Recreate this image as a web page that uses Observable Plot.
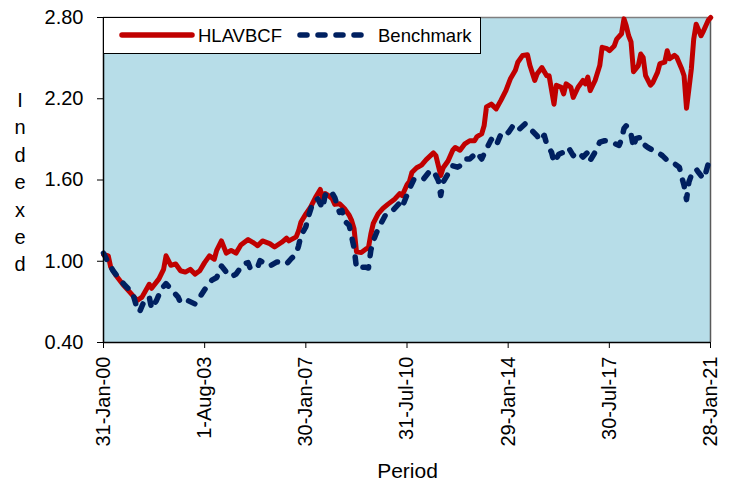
<!DOCTYPE html>
<html><head><meta charset="utf-8">
<script src="https://cdn.jsdelivr.net/npm/d3@7"></script>
<script src="https://cdn.jsdelivr.net/npm/@observablehq/plot@0.6"></script>
<style>body{margin:0;background:#fff;} svg{display:block}</style>
</head><body><div id="chart"></div>
<script>
// ---- data (month-end observations, indexed) ----
const seriesNames = ["HLAVBCF", "Benchmark"];
const fundDates = ["2000-01","2000-03","2000-04","2000-06","2000-09","2000-12","2001-03","2001-05","2001-08","2001-09","2001-12","2002-02","2002-03","2002-05","2002-07","2002-09","2002-11","2003-01","2003-03","2003-05","2003-07","2003-09","2003-11","2003-12","2004-02","2004-04","2004-06","2004-08","2004-10","2005-01","2005-03","2005-05","2005-07","2005-10","2005-12","2006-03","2006-05","2006-06","2006-09","2006-10","2006-11","2007-01","2007-03","2007-05","2007-07","2007-08","2007-09","2007-10","2007-12","2008-01","2008-03","2008-05","2008-07","2008-08","2008-09","2008-10","2008-12","2009-02","2009-03","2009-04","2009-05","2009-07","2009-09","2009-11","2010-02","2010-04","2010-05","2010-07","2010-08","2010-09","2010-11","2011-01","2011-03","2011-06","2011-07","2011-09","2011-10","2011-12","2012-02","2012-03","2012-05","2012-07","2012-09","2012-11","2012-12","2013-02","2013-03","2013-04","2013-06","2013-08","2013-10","2013-12","2014-02","2014-04","2014-05","2014-07","2014-09","2014-10","2014-12","2015-01","2015-03","2015-05","2015-06","2015-08","2015-09","2015-11","2015-12","2016-01","2016-03","2016-04","2016-06","2016-08","2016-09","2016-10","2016-11","2017-01","2017-03","2017-04","2017-06","2017-07","2017-09","2017-10","2017-12","2018-01","2018-02","2018-03","2018-04","2018-05","2018-07","2018-08","2018-09","2018-10","2018-12","2019-01","2019-03","2019-04","2019-06","2019-07","2019-08","2019-10","2019-11","2020-01","2020-02","2020-03","2020-04","2020-05","2020-06","2020-07","2020-09","2020-10","2020-12","2021-01"];
const fundValues = [1.05,1.04,0.96,0.90,0.83,0.77,0.71,0.735,0.83,0.80,0.87,0.94,1.04,0.97,0.98,0.93,0.92,0.94,0.905,0.93,0.99,1.04,1.015,1.08,1.15,1.06,1.08,1.06,1.12,1.16,1.14,1.115,1.15,1.13,1.105,1.14,1.17,1.15,1.18,1.225,1.29,1.35,1.40,1.47,1.53,1.46,1.50,1.49,1.46,1.42,1.425,1.39,1.34,1.30,1.24,1.07,1.065,1.09,1.10,1.20,1.28,1.35,1.39,1.42,1.46,1.50,1.485,1.565,1.59,1.655,1.69,1.71,1.75,1.80,1.78,1.633,1.69,1.74,1.82,1.84,1.82,1.867,1.89,1.89,1.92,1.94,2.00,2.14,2.16,2.125,2.19,2.26,2.35,2.41,2.47,2.52,2.525,2.445,2.335,2.385,2.43,2.37,2.37,2.16,2.30,2.285,2.235,2.31,2.285,2.21,2.285,2.335,2.31,2.36,2.26,2.335,2.445,2.58,2.57,2.555,2.59,2.64,2.68,2.79,2.74,2.665,2.62,2.40,2.445,2.53,2.505,2.37,2.30,2.32,2.395,2.46,2.47,2.555,2.495,2.52,2.505,2.42,2.37,2.13,2.27,2.42,2.64,2.75,2.665,2.70,2.78,2.80];
const benchDates = ["2000-01","2000-03","2000-05","2000-08","2000-10","2001-01","2001-03","2001-04","2001-06","2001-08","2001-09","2001-11","2002-01","2002-03","2002-05","2002-08","2002-09","2002-12","2003-03","2003-05","2003-07","2003-10","2003-12","2004-02","2004-04","2004-06","2004-08","2004-11","2005-01","2005-02","2005-05","2005-06","2005-10","2006-01","2006-05","2006-07","2006-09","2006-10","2006-11","2007-01","2007-02","2007-04","2007-06","2007-08","2007-09","2007-10","2007-12","2008-01","2008-03","2008-04","2008-05","2008-07","2008-08","2008-09","2008-10","2008-11","2009-01","2009-02","2009-03","2009-04","2009-05","2009-07","2009-10","2009-12","2010-01","2010-04","2010-05","2010-07","2010-08","2010-10","2010-12","2011-02","2011-04","2011-06","2011-08","2011-09","2011-10","2011-12","2012-02","2012-04","2012-05","2012-07","2012-09","2012-12","2013-02","2013-04","2013-06","2013-08","2013-10","2013-12","2014-01","2014-03","2014-05","2014-08","2014-10","2015-01","2015-02","2015-04","2015-05","2015-07","2015-08","2015-10","2015-12","2016-02","2016-04","2016-06","2016-08","2016-10","2016-11","2017-01","2017-03","2017-05","2017-07","2017-11","2017-12","2018-01","2018-02","2018-03","2018-04","2018-05","2018-06","2018-08","2018-09","2018-11","2019-01","2019-03","2019-05","2019-07","2019-10","2019-12","2020-01","2020-02","2020-03","2020-04","2020-05","2020-07","2020-08","2020-10","2020-11","2020-12","2021-01"];
const benchValues = [1.06,0.99,0.93,0.86,0.82,0.77,0.65,0.625,0.71,0.735,0.65,0.71,0.795,0.835,0.795,0.735,0.695,0.71,0.685,0.735,0.79,0.86,0.88,0.965,0.92,0.885,0.905,0.98,0.99,0.945,0.955,1.005,0.965,0.995,0.98,1.02,1.055,1.115,1.19,1.255,1.325,1.435,1.46,1.39,1.485,1.52,1.50,1.47,1.36,1.375,1.30,1.265,1.18,1.10,0.95,0.96,0.955,0.955,0.95,1.08,1.15,1.24,1.34,1.36,1.375,1.43,1.40,1.49,1.535,1.61,1.61,1.61,1.655,1.67,1.595,1.485,1.585,1.645,1.705,1.695,1.705,1.755,1.755,1.805,1.755,1.83,1.90,1.855,1.94,1.965,1.95,2.00,1.965,2.015,1.98,1.925,1.89,1.93,1.865,1.805,1.73,1.79,1.805,1.84,1.78,1.805,1.77,1.805,1.745,1.805,1.88,1.89,1.885,1.855,1.90,1.98,2.00,1.98,1.94,1.84,1.905,1.915,1.867,1.84,1.82,1.805,1.78,1.745,1.72,1.695,1.62,1.56,1.455,1.585,1.635,1.68,1.655,1.61,1.655,1.72,1.745];
const xTickLabels = ["2000-01-31","2003-08-01","2007-01-30","2010-07-31","2014-01-29","2017-07-30","2021-01-28"];
const yTicks = [0.40, 1.00, 1.60, 2.20, 2.80];
const xTitle = "Period";
const yTitle = "Indexed";

// ---- build ----
const monthEnd = s => { const [y, m] = s.split("-").map(Number); return new Date(Date.UTC(y, m, 0)); };
const fund = fundDates.map((d, i) => ({date: monthEnd(d), value: fundValues[i]}));
const bench = benchDates.map((d, i) => ({date: monthEnd(d), value: benchValues[i]}));
const xTicks = xTickLabels.map(s => new Date(s + "T00:00:00Z"));
const xDomain = [xTicks[0], xTicks[xTicks.length - 1]];

const FONT = "'Liberation Sans', Arial, sans-serif";
const RED = "#C00000", BLUE = "#002060", BG = "#B7DDE8";
const W = 729, H = 481, ML = 103, MR = 19, MT = 17, MB = 139;

const chart = Plot.plot({
  width: W, height: H,
  marginLeft: ML, marginRight: MR, marginTop: MT, marginBottom: MB,
  style: {fontFamily: FONT, fontSize: "20px", color: "#000", background: "#fff", overflow: "visible"},
  x: {type: "utc", domain: xDomain},
  y: {domain: [yTicks[0], yTicks[yTicks.length - 1]]},
  marks: [
    Plot.frame({fill: BG}),
    Plot.ruleY([yTicks[yTicks.length - 1]], {stroke: "#7f7f7f", strokeWidth: 1.5}),
    Plot.ruleX([xDomain[1]], {stroke: "#595959", strokeWidth: 1.5}),
    Plot.line(fund, {x: "date", y: "value", stroke: RED, strokeWidth: 5, strokeLinejoin: "round", strokeLinecap: "round"}),
    Plot.line(bench, {x: "date", y: "value", stroke: BLUE, strokeWidth: 5.5, strokeDasharray: "7,11", strokeLinejoin: "round", strokeLinecap: "round"}),
    Plot.ruleX([xDomain[0]], {stroke: "#000", strokeWidth: 1.5}),
    Plot.ruleY([yTicks[0]], {stroke: "#000", strokeWidth: 1.5}),
    Plot.axisY(yTicks, {tickFormat: d3.format(".2f"), tickSize: 6, tickPadding: 14, fontSize: 20, label: null, stroke: "#000"}),
    Plot.axisX(xTicks, {tickFormat: d3.utcFormat("%-d-%b-%y"), tickRotate: -90, tickSize: 6, tickPadding: 8, fontSize: 20, label: null, stroke: "#000"})
  ]
});
document.getElementById("chart").appendChild(chart);

// ---- titles & legend ----
const svg = d3.select(chart);
svg.append("text").attr("x", ML + (W - ML - MR) / 2 + 1).attr("y", 478)
  .attr("text-anchor", "middle").attr("font-family", FONT).attr("font-size", 21).attr("fill", "#000").text(xTitle);
const yt = svg.append("text").attr("font-family", FONT).attr("font-size", 20).attr("fill", "#000").attr("text-anchor", "middle");
yTitle.split("").forEach((ch, i) => yt.append("tspan").attr("x", 20).attr("y", 107 + i * 27.4).text(ch));

const lg = svg.append("g");
lg.append("rect").attr("x", ML + 0.5).attr("y", MT + 0.5).attr("width", 377).attr("height", 36)
  .attr("fill", "#fff").attr("stroke", "#000").attr("stroke-width", 1);
const items = [
  {name: seriesNames[0], color: RED, dash: null, x0: 122, tx: 198},
  {name: seriesNames[1], color: BLUE, dash: "7,11", x0: 300, tx: 378}
];
items.forEach(it => {
  lg.append("line").attr("x1", it.x0).attr("x2", it.x0 + 70).attr("y1", 35).attr("y2", 35)
    .attr("stroke", it.color).attr("stroke-width", 5.5).attr("stroke-linecap", "round")
    .attr("stroke-dasharray", it.dash);
  lg.append("text").attr("x", it.tx).attr("y", 42).attr("text-anchor", "start").attr("font-family", FONT).attr("font-size", 18.5)
    .attr("fill", "#000").text(it.name);
});
</script></body></html>
